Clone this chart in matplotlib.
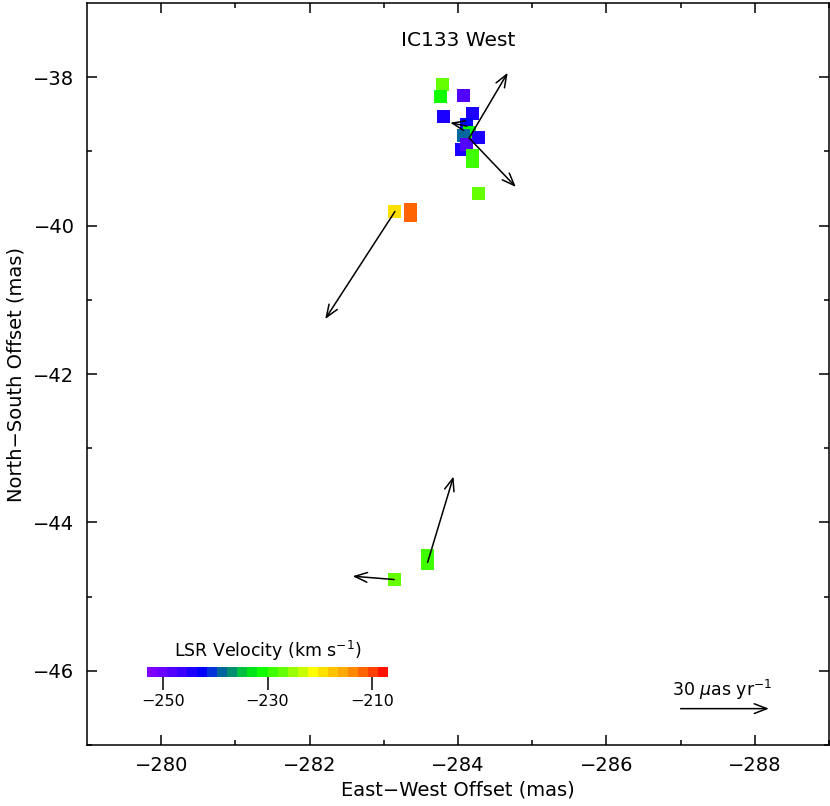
import numpy as np
import matplotlib
matplotlib.use('Agg')
import matplotlib.pyplot as plt
from matplotlib.colors import ListedColormap, Normalize
from matplotlib.cm import ScalarMappable

# maser spot positions (mas) and LSR velocities (km/s)
east_off = [-283.79, -283.76, -284.07, -283.80, -284.19, -284.12, -284.15, -284.07,
            -284.27, -284.05, -284.12, -284.20, -284.20, -284.28, -283.14, -283.36,
            -283.36, -283.59, -283.59, -283.14]
north_off = [-38.10, -38.26, -38.25, -38.53, -38.49, -38.64, -38.75, -38.78,
             -38.81, -38.98, -38.91, -39.06, -39.14, -39.57, -39.81, -39.78,
             -39.86, -44.45, -44.56, -44.77]
vlsr = [-227, -231, -248, -244, -244, -243, -231, -239,
        -244, -244, -249, -230, -230, -227, -219, -211,
        -212, -229, -229, -227]

# proper motion arrows: start position and displacement (mas)
pm_x = [-284.15, -284.15, -284.12, -283.15, -283.59, -283.14]
pm_y = [-38.82, -38.82, -38.66, -39.81, -44.54, -44.77]
pm_dx = [-0.52, -0.63, 0.225, 0.94, -0.35, 0.56]
pm_dy = [0.88, -0.66, 0.047, -1.45, 1.16, 0.045]

# scale arrow (30 uas/yr)
scale_x, scale_y, scale_dx = -287.0, -46.51, -1.19

vmin, vmax = -253, -207
colors = ['#8000ff', '#6a00ff', '#5200ff', '#3a00ff', '#1c00ff', '#0000ff',
          '#0034d8', '#00689e', '#009070', '#00c040', '#00e418', '#10ff00',
          '#40ff00', '#66ff00', '#99ff00', '#c8ff00', '#ffff00', '#ffe000',
          '#ffc400', '#ffa800', '#ff8800', '#ff6400', '#ff4000', '#ff1000']
cmap = ListedColormap(colors)
norm = Normalize(vmin, vmax)

plt.rcParams['font.family'] = 'DejaVu Sans'
fig = plt.figure(figsize=(8.3, 8.06), dpi=100)
ax = fig.add_axes([87/830, 1 - 745/806, 742/830, 742/806])

ax.scatter(east_off, north_off, c=vlsr, cmap=cmap, norm=norm, marker='s',
           s=88, linewidths=0, zorder=2)

arrow = dict(arrowstyle='->,head_length=0.9,head_width=0.35', lw=1.1,
             color='black', shrinkA=0, shrinkB=0)
for x, y, dx, dy in zip(pm_x, pm_y, pm_dx, pm_dy):
    ax.annotate('', xy=(x + dx, y + dy), xytext=(x, y), arrowprops=arrow, zorder=3)

ax.annotate('', xy=(scale_x + scale_dx, scale_y), xytext=(scale_x, scale_y),
            arrowprops=arrow)
ax.text(-287.56, -46.26, r'30 $\mu$as yr$^{-1}$', ha='center', va='center', fontsize=12.5)

ax.text(-284.0, -37.5, 'IC133 West', ha='center', va='center', fontsize=14.5)

ax.set_xlim(-279, -289)
ax.set_ylim(-47, -37)
ax.set_xticks([-280, -282, -284, -286, -288])
ax.set_xticks(np.arange(-289, -279), minor=True)
ax.set_yticks([-38, -40, -42, -44, -46])
ax.set_yticks(np.arange(-47, -37), minor=True)
ax.xaxis.set_major_formatter(plt.FuncFormatter(lambda v, p: f'{v:.0f}'.replace('-', '\u2212')))
ax.yaxis.set_major_formatter(plt.FuncFormatter(lambda v, p: f'{v:.0f}'.replace('-', '\u2212')))
ax.tick_params(which='both', direction='in', top=True, right=True, width=1.1,
               labelsize=14)
ax.tick_params(which='major', length=7.5)
ax.tick_params(which='minor', length=3.8)
ax.tick_params(axis='x', pad=8)
ax.tick_params(axis='y', pad=9)
for s in ax.spines.values():
    s.set_linewidth(1.1)
ax.set_xlabel('East\u2212West Offset (mas)', fontsize=14, labelpad=4)
ax.set_ylabel('North\u2212South Offset (mas)', fontsize=14, labelpad=6)

# colour bar drawn inside the plot
cax = fig.add_axes([147/830, 1 - 677/806, 241/830, 10/806])
cb = fig.colorbar(ScalarMappable(norm=norm, cmap=cmap), cax=cax,
                  orientation='horizontal', ticks=[-250, -230, -210])
cb.outline.set_visible(False)
cax.set_xticklabels(['\u2212250', '\u2212230', '\u2212210'])
cax.tick_params(direction='out', length=9, width=1.1, labelsize=11.5, pad=3)
cax.set_title('LSR Velocity (km s$^{-1}$)', fontsize=12.5, pad=7)

plt.savefig('out.png', dpi=100)
